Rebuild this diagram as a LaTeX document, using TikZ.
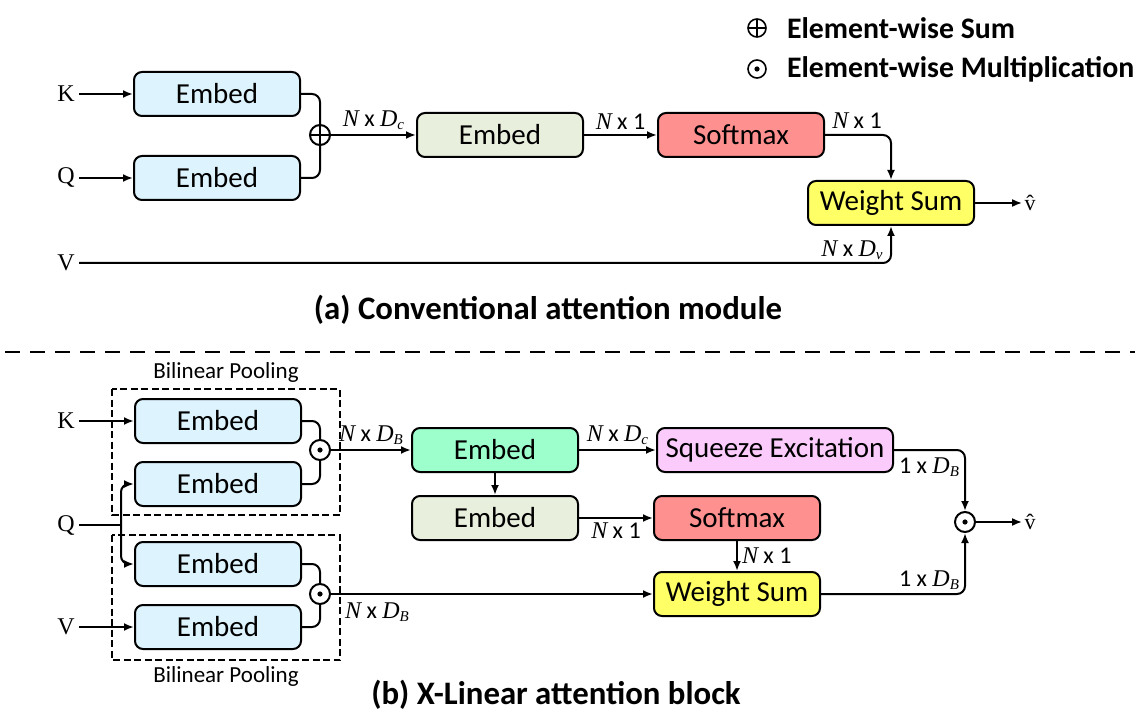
\documentclass[tikz,border=0pt]{standalone}
\usepackage{fontspec}
\setmainfont{Carlito}
\newfontfamily\tms{Liberation Serif}
\usetikzlibrary{arrows.meta}

\definecolor{embblue}{HTML}{DDF3FD}
\definecolor{embgrey}{HTML}{E9EFDD}
\definecolor{embgreen}{HTML}{9DFFCC}
\definecolor{smred}{HTML}{FF9090}
\definecolor{wsyel}{HTML}{FFFF66}
\definecolor{sepink}{HTML}{FBCBFB}

\newcommand{\vN}{{\tms\itshape N}}
\newcommand{\vD}[1]{{\tms\itshape D\raisebox{-.3ex}{\fontsize{7.5}{8}\selectfont #1}}}

\begin{document}
\begin{tikzpicture}[x=0.5pt,y=-0.5pt]
	\tikzset{>={Latex[length=5pt,width=4pt]}}
	\tikzset{
		blk/.style={draw,line width=1pt,rounded corners=4pt,minimum width=83pt,minimum height=22pt,inner sep=1pt,font=\fontsize{14.5}{17}\selectfont},
		inlbl/.style={font=\tms\fontsize{12}{14}\selectfont,inner sep=2pt},
		outlbl/.style={font=\tms\fontsize{11}{13}\selectfont,inner sep=1pt},
		dimlbl/.style={font=\fontsize{12}{14}\selectfont,inner sep=2pt},
		ttl/.style={font=\bfseries\fontsize{16.4}{19}\selectfont},
		lgtxt/.style={font=\bfseries\fontsize{14.9}{17}\selectfont,anchor=west},
		sumop/.style={circle,draw,line width=1pt,minimum size=10pt,inner sep=0pt,path picture={\draw[line width=1pt] (path picture bounding box.north) -- (path picture bounding box.south) (path picture bounding box.west) -- (path picture bounding box.east);}},
		mulop/.style={circle,draw,line width=1pt,minimum size=10pt,inner sep=0pt,path picture={\fill (path picture bounding box.center) circle (1.3pt);}},
		legop/.style={minimum size=9pt,line width=0.8pt},
		pool/.style={line width=0.75pt,dash pattern=on 3.5pt off 1.75pt},
		poollbl/.style={font=\fontsize{11.5}{13}\selectfont},
		conn/.style={line width=1pt,rounded corners=4pt}
	}
	\useasboundingbox (0,0) rectangle (1139,716);

	% legend
	\node[sumop,legop] (lgsum) at (757,28) {};
	\node[lgtxt] (lgsumt) at (780,28) {Element-wise Sum};
	\node[mulop,legop] (lgmul) at (757,69) {};
	\node[lgtxt] (lgmult) at (780,69) {Element-wise Multiplication};

	% (a) conventional attention
	\node[inlbl] (ka) at (66,94) {K};
	\node[inlbl] (qa) at (66,178) {Q};
	\node[inlbl] (va) at (66,263) {V};
	\node[blk,fill=embblue] (eka) at (217,94) {Embed};
	\node[blk,fill=embblue] (eqa) at (217,178) {Embed};
	\node[sumop] (suma) at (320,135) {};
	\node[blk,fill=embgrey] (ema) at (500,135) {Embed};
	\node[blk,fill=smred] (sma) at (741,135) {Softmax};
	\node[blk,fill=wsyel] (wsa) at (891,203) {Weight Sum};
	\node[outlbl] (outa) at (1030,203) {\^v};

	\draw[conn,->] (ka) -- (eka);
	\draw[conn,->] (qa) -- (eqa);
	\draw[conn] (eka) -| (suma);
	\draw[conn] (eqa) -| (suma);
	\draw[conn,->] (suma) -- (ema) node[dimlbl,midway,above] {\vN{} x \vD{c}};
	\draw[conn,->] (ema) -- (sma) node[dimlbl,midway,above] {\vN{} x 1};
	\draw[conn,->] (sma) -| (wsa);
	\draw[conn,->] (va) -| (wsa);
	\draw[conn,->] (wsa) -- (outa);
	\node[dimlbl] (la1) at (857,121) {\vN{} x 1};
	\node[dimlbl] (la2) at (852,250) {\vN{} x \vD{v}};

	\node[ttl] (tta) at (548,310) {(a) Conventional attention module};

	\draw[line width=1pt,dash pattern=on 7.5pt off 5pt] (5,352) -- (1135,352);

	% (b) x-linear attention
	\draw[pool] (112,389) rectangle (340,515);
	\draw[pool] (112,535) rectangle (340,660);
	\node[poollbl] (plt) at (226,372) {Bilinear Pooling};
	\node[poollbl] (plb) at (226,676) {Bilinear Pooling};

	\node[inlbl] (kb) at (66,421) {K};
	\node[inlbl] (qb) at (66,525) {Q};
	\node[inlbl] (vb) at (66,627) {V};
	\coordinate (qsplit) at (121,525);
	\node[blk,fill=embblue] (ekb) at (218,421) {Embed};
	\node[blk,fill=embblue] (eqb1) at (218,484) {Embed};
	\node[blk,fill=embblue] (eqb2) at (218,564) {Embed};
	\node[blk,fill=embblue] (evb) at (218,627) {Embed};
	\node[mulop] (mulk) at (320,450) {};
	\node[mulop] (mulv) at (320,594) {};

	\node[blk,fill=embgreen] (egb) at (495,450) {Embed};
	\node[blk,fill=embgrey] (emb) at (495,518) {Embed};
	\node[blk,fill=sepink,minimum width=118pt] (seb) at (775,450) {Squeeze Excitation};
	\node[blk,fill=smred] (smb) at (737,518) {Softmax};
	\node[blk,fill=wsyel] (wsb) at (737,594) {Weight Sum};
	\node[mulop] (mulo) at (965,522) {};
	\node[outlbl] (outb) at (1030,522) {\^v};

	\draw[conn,->] (kb) -- (ekb);
	\draw[conn] (qb) -- (qsplit);
	\draw[conn,->] (qsplit) |- (eqb1);
	\draw[conn,->] (qsplit) |- (eqb2);
	\draw[conn,->] (vb) -- (evb);
	\draw[conn] (ekb) -| (mulk);
	\draw[conn] (eqb1) -| (mulk);
	\draw[conn] (eqb2) -| (mulv);
	\draw[conn] (evb) -| (mulv);
	\draw[conn,->] (mulk) -- (egb) node[dimlbl,midway,above] {\vN{} x \vD{B}};
	\draw[conn,->] (mulv) -- (wsb);
	\node[dimlbl] (lb1) at (377,612) {\vN{} x \vD{B}};
	\draw[conn,->] (egb) -- (emb);
	\draw[conn,->] (egb) -- (seb) node[dimlbl,midway,above] {\vN{} x \vD{c}};
	\draw[conn,->] (emb) -- (smb) node[dimlbl,midway,below] {\vN{} x 1};
	\draw[conn,->] (smb) -- (wsb) node[dimlbl,midway,right] {\vN{} x 1};
	\draw[conn,->] (seb) -| (mulo);
	\draw[conn,->] (wsb) -| (mulo);
	\draw[conn,->] (mulo) -- (outb);
	\node[dimlbl] (lb2) at (929,467) {1 x \vD{B}};
	\node[dimlbl] (lb3) at (929,580) {1 x \vD{B}};

	\node[ttl] (ttb) at (556,695) {(b) X-Linear attention block};

\end{tikzpicture}
\end{document}
